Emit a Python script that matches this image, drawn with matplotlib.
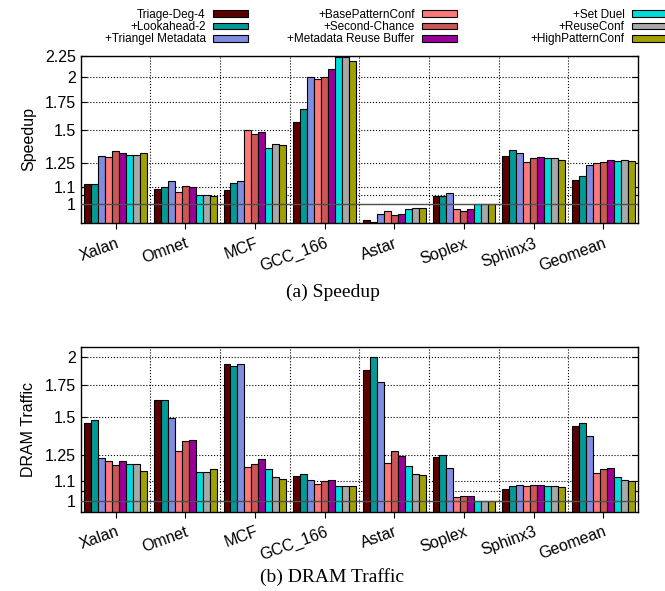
import numpy as np
import matplotlib
matplotlib.use('Agg')
import matplotlib.pyplot as plt
from matplotlib.ticker import NullLocator, FixedLocator

plt.rcParams['font.family'] = ['Liberation Sans', 'DejaVu Sans']

benchmarks = ['Xalan', 'Omnet', 'MCF', 'GCC_166', 'Astar', 'Soplex', 'Sphinx3', 'Geomean']
configs = ['Triage-Deg-4', '+Lookahead-2', '+Triangel Metadata',
           '+BasePatternConf', '+Second-Chance', '+Metadata Reuse Buffer',
           '+Set Duel', '+ReuseConf', '+HighPatternConf']
colors = ['#5c0000', '#009b96', '#7f8ce0', '#ff7878', '#cc5555', '#990099',
          '#00dcdc', '#a8a8a8', '#a0a000']

# speedup, one row per benchmark, one column per config
speedup = [
    [1.116, 1.116, 1.300, 1.290, 1.336, 1.321, 1.309, 1.309, 1.321],
    [1.085, 1.099, 1.134, 1.068, 1.101, 1.099, 1.050, 1.050, 1.046],
    [1.080, 1.120, 1.134, 1.495, 1.466, 1.482, 1.358, 1.392, 1.383],
    [1.568, 1.684, 2.000, 1.980, 1.997, 2.090, 2.230, 2.230, 2.180],
    [0.916, 0.905, 0.947, 0.962, 0.942, 0.947, 0.973, 0.978, 0.978],
    [1.046, 1.046, 1.062, 0.973, 0.962, 0.973, 1.000, 1.000, 1.000],
    [1.302, 1.343, 1.321, 1.258, 1.286, 1.293, 1.286, 1.286, 1.272],
    [1.140, 1.167, 1.238, 1.251, 1.258, 1.272, 1.265, 1.272, 1.265],
]

dram_traffic = [
    [1.455, 1.479, 1.231, 1.213, 1.190, 1.213, 1.196, 1.196, 1.156],
    [1.629, 1.629, 1.495, 1.273, 1.336, 1.343, 1.150, 1.150, 1.167],
    [1.941, 1.920, 1.935, 1.179, 1.197, 1.225, 1.169, 1.123, 1.114],
    [1.130, 1.139, 1.107, 1.086, 1.103, 1.107, 1.075, 1.075, 1.075],
    [1.883, 2.005, 1.777, 1.200, 1.271, 1.243, 1.184, 1.139, 1.132],
    [1.237, 1.249, 1.175, 1.020, 1.027, 1.026, 1.000, 1.000, 1.000],
    [1.061, 1.073, 1.080, 1.075, 1.080, 1.080, 1.077, 1.077, 1.070],
    [1.439, 1.457, 1.366, 1.145, 1.167, 1.173, 1.121, 1.107, 1.099],
]

speedup_ticks = [1, 1.05, 1.1, 1.25, 1.5, 1.75, 2, 2.25]
speedup_labels = ['1', '', '1.1', '1.25', '1.5', '1.75', '2', '2.25']
traffic_ticks = [1, 1.05, 1.1, 1.25, 1.5, 1.75, 2]
traffic_labels = ['1', '', '1.1', '1.25', '1.5', '1.75', '2']


def draw_bars(ax, data, ylim, ticks, labels, ylabel):
    data = np.array(data)
    n = len(configs)
    w = 0.1
    x = np.arange(len(benchmarks))
    base = 0.5  # bars start below the visible range (log axis)
    bars = []
    for i in range(n):
        b = ax.bar(x + (i - (n - 1) / 2) * w, data[:, i] - base, w, bottom=base,
                   color=colors[i], edgecolor='black', linewidth=0.8,
                   label=configs[i], zorder=2)
        bars.append(b)
    ax.set_yscale('log')
    ax.set_ylim(ylim)
    ax.set_xlim(-0.5, len(benchmarks) - 0.5)
    ax.yaxis.set_major_locator(FixedLocator(ticks))
    ax.set_yticklabels(labels)
    ax.yaxis.set_minor_locator(NullLocator())
    ax.set_xticks(x)
    ax.set_xticklabels(benchmarks, rotation=20, ha='right', va='top',
                       rotation_mode='anchor')
    ax.set_xticks(x[:-1] + 0.5, minor=True)
    ax.tick_params(axis='x', which='minor', length=0)
    ax.tick_params(axis='x', which='major', direction='out', length=4,
                   labelsize=11.5, pad=5)
    ax.tick_params(axis='y', direction='in', left=True, right=True,
                   length=4, labelsize=11.5)
    ax.grid(axis='y', which='major', linestyle=':', color='black',
            linewidth=0.8, zorder=0)
    ax.grid(axis='x', which='minor', linestyle=':', color='black',
            linewidth=0.8, zorder=0)
    ax.set_axisbelow(True)
    ax.axhline(1.0, color='#505050', linewidth=1.0, zorder=3)
    ax.set_ylabel(ylabel, fontsize=11.5, labelpad=6)
    for s in ax.spines.values():
        s.set_linewidth(1.0)
    return bars


fig = plt.figure(figsize=(6.65, 5.91), dpi=100)
ax1 = fig.add_axes([0.1214, 0.6222, 0.838, 0.2836])
ax2 = fig.add_axes([0.1214, 0.1342, 0.838, 0.2782])

bars = draw_bars(ax1, speedup, (0.9, 2.25), speedup_ticks, speedup_labels, 'Speedup')
draw_bars(ax2, dram_traffic, (0.95, 2.1), traffic_ticks, traffic_labels, 'DRAM Traffic')

# gnuplot-style key: three fixed-width columns, label left of the swatch
col_right = [248, 457, 667]
for c in range(3):
    fig.legend(bars[3 * c:3 * c + 3], configs[3 * c:3 * c + 3],
               loc='upper right', bbox_to_anchor=(col_right[c] / 665, 1 - 9 / 591),
               ncol=1, frameon=False, markerfirst=False, fontsize=8.5,
               handlelength=3.0, handleheight=0.5, handletextpad=0.6,
               labelspacing=0.02, borderaxespad=0.0, borderpad=0.0)

fig.text(0.5, 1 - 292 / 591, '(a) Speedup', ha='center', va='center',
         family='Liberation Serif', fontsize=14)
fig.text(0.5, 1 - 577 / 591, '(b) DRAM Traffic', ha='center', va='center',
         family='Liberation Serif', fontsize=14)

fig.savefig('out.png', dpi=100)
